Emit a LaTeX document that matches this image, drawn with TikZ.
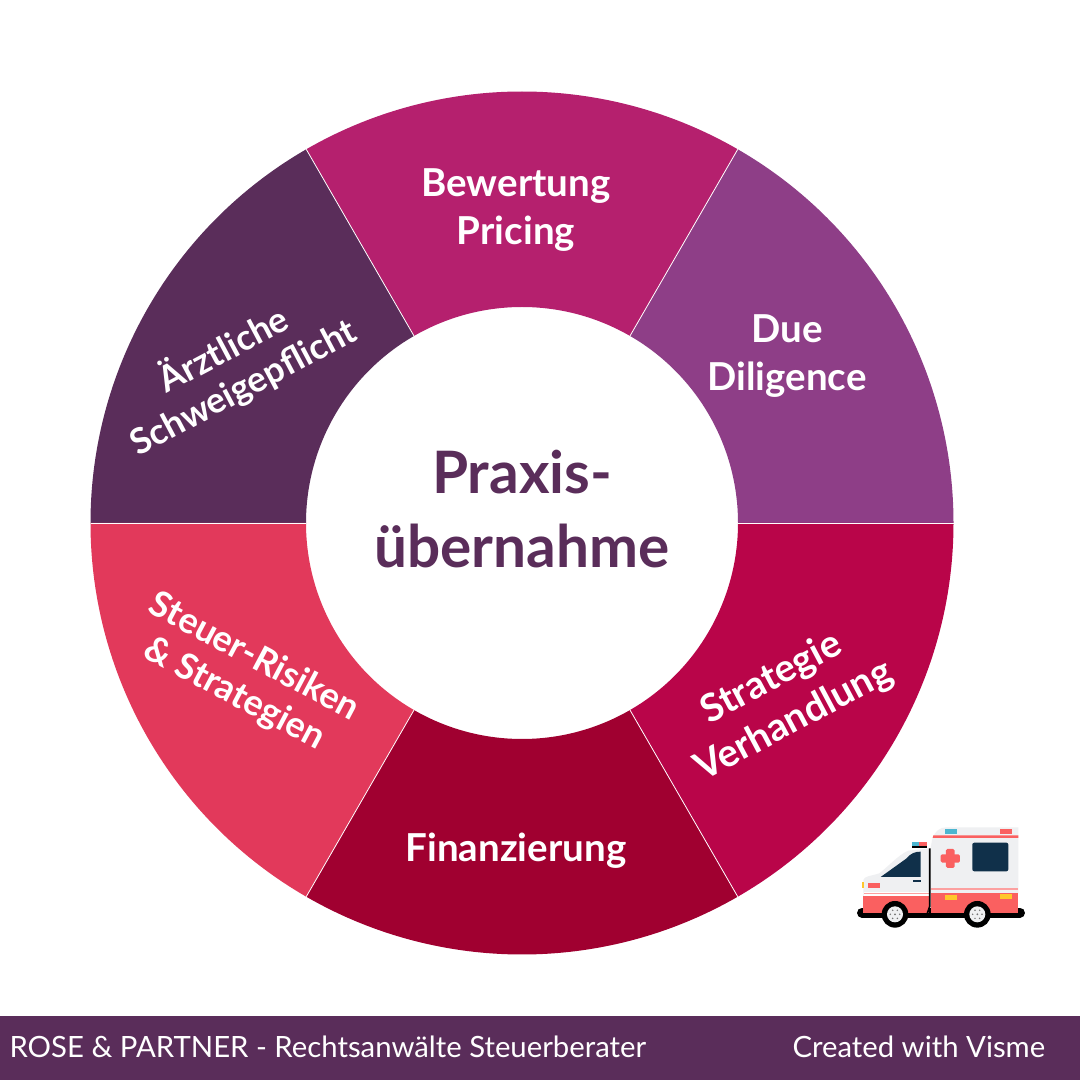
\documentclass[tikz,border=0pt]{standalone}
\usepackage{fontspec}
\setmainfont{Lato}
\usepackage{xcolor}
\usetikzlibrary{calc}
\definecolor{plum}{HTML}{5A2D5A}
\definecolor{magenta}{HTML}{B5206E}
\definecolor{violet}{HTML}{8E3E87}
\definecolor{crimson}{HTML}{B90549}
\definecolor{wine}{HTML}{A00030}
\definecolor{rosered}{HTML}{E2395B}
\definecolor{ambred}{HTML}{FA6060}
\definecolor{ambgrey}{HTML}{EFF0F2}
\definecolor{ambdark}{HTML}{10304A}
\definecolor{ambblue}{HTML}{4DB6D0}
\definecolor{ambyellow}{HTML}{FFC72C}
\tikzset{
  seglabel/.style={text=white, font=\fontsize{38.5}{48}\selectfont\bfseries, align=center},
  tiltlabel/.style={text=white, font=\fontsize{#1}{42}\selectfont\bfseries, align=center},
  hublabel/.style={text=plum, font=\fontsize{58.5}{74}\selectfont\bfseries, align=center},
  footlabel/.style={text=white, font=\fontsize{29.3}{32}\selectfont, anchor=base west},
  wheel/.pic={
    \fill[black] (0,0) circle (40);
    \fill[ambgrey] (0,0) circle (24);
    \foreach \a in {0,60,...,300} \fill[black!55] (\a:14) circle (2.5);
    \fill[black!55] (0,0) circle (3);
  }
}
\begin{document}
\begin{tikzpicture}[x=1pt, y=1pt]
  \useasboundingbox (0,0) rectangle (1080,1080);
  \fill[white] (0,0) rectangle (1080,1080);
  \coordinate (O) at (522,557);
  % couronne
  \foreach \start/\col in {0/violet,60/magenta,120/plum,180/rosered,240/wine,300/crimson}
    \fill[\col] ($(O)+(\start:431.5)$) arc[start angle=\start, delta angle=60, radius=431.5]
      -- ($(O)+(\start+60:216)$) arc[start angle=\start+60, delta angle=-60, radius=216] -- cycle;
  \foreach \start in {0,60,...,300}
    \draw[white, line width=0.8pt] ($(O)+(\start:216)$) -- ($(O)+(\start:431.5)$);
  % textes
  \node[seglabel] (bewertung) at (516,870) {Bewertung\\Pricing};
  \node[seglabel] (due) at (787,724) {Due\\Diligence};
  \node[seglabel] (strategie) at (783,380) [rotate=28] {Strategie\\Verhandlung};
  \node[seglabel] (finanz) at (516,229) {Finanzierung};
  \node[tiltlabel=36] (steuer) at (244,404) [rotate=-28] {Steuer-Risiken\\\& Strategien};
  \node[tiltlabel=35.5] (arzt) at (233,712) [rotate=28] {Ärztliche\\Schweigepflicht};
  \node[hublabel] (hub) at (522,571) {Praxis-\\übernahme};
  % bandeau
  \fill[plum] (0,0) rectangle (1080,64);
  \node[footlabel] (rose) at (6,22) {ROSE \& PARTNER - Rechtsanwälte Steuerberater};
  \node[footlabel] (visme) at (789,22) {Created with Visme};
  % ambulance
  \begin{scope}[shift={(840,270)}, x=0.3333pt, y=-0.3333pt]
    \draw[black, line width=10pt, line cap=round] (66,308) -- (540,308);
    \fill[ambgrey] (70,258) -- (70,210) .. controls (72,198) and (95,198) .. (118,190)
      .. controls (150,165) and (175,135) .. (205,122) -- (272,115) -- (276,90)
      .. controls (285,62) and (300,52) .. (320,52) -- (535,52) -- (535,250) -- (270,250) -- (270,258) -- cycle;
    \fill[ambred] (70,258) rectangle (266,310);
    \fill[ambred] (272,250) rectangle (535,310);
    \fill[white] (72,246) rectangle (266,258);
    \fill[ambred!60] (72,250) rectangle (266,253);
    \fill[ambred!60] (272,235) rectangle (535,240);
    \fill[ambred] (280,76) -- (535,76) -- (535,84) -- (278,84) -- cycle;
    \fill[ambblue] (316,56) rectangle (352,72);
    \fill[ambred] (480,57) rectangle (516,72);
    \fill[ambblue] (215,97) rectangle (238,110);
    \fill[ambred] (238,97) rectangle (260,110);
    \fill[black] (215,109) rectangle (262,115);
    \fill[ambdark, rounded corners=2pt] (397,98) rectangle (505,184);
    \fill[ambred, rounded corners=1.5pt] (318,117) rectangle (344,174);
    \fill[ambred, rounded corners=1.5pt] (302,133) rectangle (360,158);
    \fill[ambdark] (122,201) -- (200,145) .. controls (212,130) and (225,125) .. (242,125) -- (242,201) -- cycle;
    \fill[ambdark] (218,209) rectangle (242,216);
    \fill[ambyellow] (65,216) rectangle (72,235);
    \fill[ambred] (84,220) rectangle (119,234);
    \fill[ambyellow] (316,255) rectangle (352,270);
    \fill[ambyellow] (480,252) rectangle (516,268);
    \draw[black, line width=1.7pt] (269,115) -- (269,290) -- (262,310);
    \pic at (165,313) {wheel};
    \pic at (412,313) {wheel};
  \end{scope}
\end{tikzpicture}
\end{document}
